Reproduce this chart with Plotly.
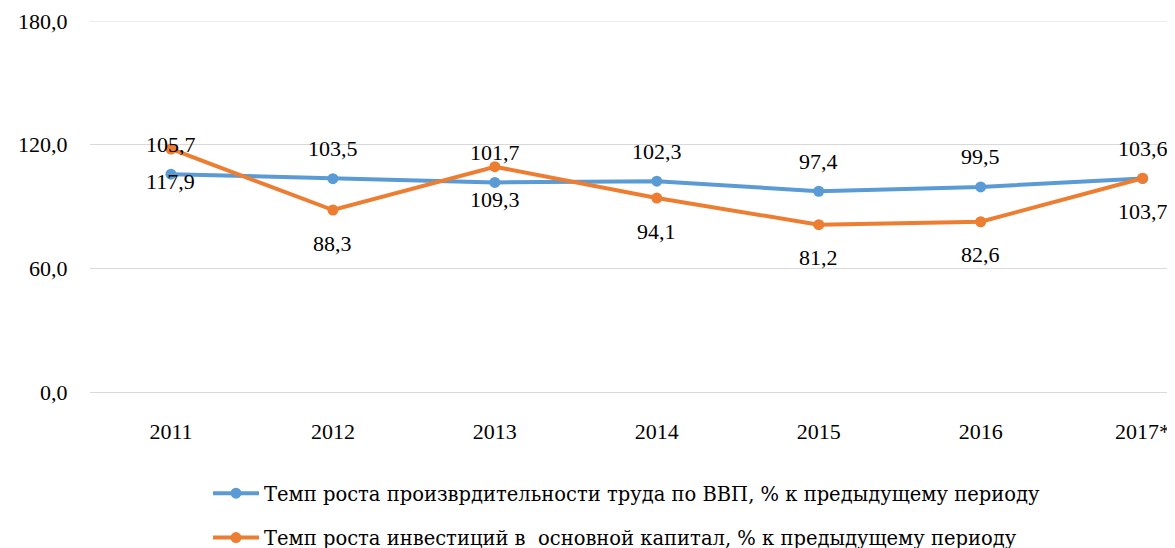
import plotly.graph_objects as go

years = ["2011", "2012", "2013", "2014", "2015", "2016", "2017*"]
productivity = [105.7, 103.5, 101.7, 102.3, 97.4, 99.5, 103.6]
investment = [117.9, 88.3, 109.3, 94.1, 81.2, 82.6, 103.7]
y_ticks = [0, 60, 120, 180]

name_prod = "Темп роста произврдительности труда по ВВП, % к предыдущему периоду"
name_inv = "Темп роста инвестиций в  основной капитал, % к предыдущему периоду"

BLUE = "#5B9BD5"
ORANGE = "#ED7D31"
FONT = "Liberation Serif"

def fmt(v):
    return f"{v:.1f}".replace(".", ",")

fig = go.Figure()
fig.add_trace(go.Scatter(
    x=years, y=productivity, name=name_prod, mode="lines+markers",
    line=dict(color=BLUE, width=4), marker=dict(color=BLUE, size=11),
    legendgroup="a"))
fig.add_trace(go.Scatter(
    x=years, y=investment, name=name_inv, mode="lines+markers",
    line=dict(color=ORANGE, width=4), marker=dict(color=ORANGE, size=11),
    legendgroup="b"))

annotations = []
for i, v in enumerate(productivity):
    annotations.append(dict(x=i, y=v, xref="x", yref="y", text=fmt(v),
                            showarrow=False, yshift=30,
                            font=dict(family=FONT, size=22, color="#000000")))
for i, v in enumerate(investment):
    annotations.append(dict(x=i, y=v, xref="x", yref="y", text=fmt(v),
                            showarrow=False, yshift=-33,
                            font=dict(family=FONT, size=22, color="#000000")))

fig.update_layout(
    width=1167, height=540,
    margin=dict(l=82, r=0, t=13, b=156, autoexpand=False),
    paper_bgcolor="white", plot_bgcolor="white",
    font=dict(family=FONT, size=22, color="#000000"),
    annotations=annotations,
    showlegend=True,
    legend=dict(
        xref="container", yref="container",
        x=200 / 1167, y=(540 - 466) / 540,
        xanchor="left", yanchor="top",
        orientation="v", traceorder="grouped", tracegroupgap=16,
        itemwidth=46,
        font=dict(family="DejaVu Serif", size=19.5, color="#000000"),
        bgcolor="rgba(0,0,0,0)",
    ),
    xaxis=dict(
        type="category", range=[-0.5, 6.2],
        showgrid=False, showline=False, zeroline=False,
        ticks="outside", ticklen=20, tickcolor="rgba(0,0,0,0)",
        tickangle=0, automargin=False,
        tickfont=dict(family=FONT, size=22),
    ),
    yaxis=dict(
        range=[0, 180], tickvals=y_ticks,
        ticktext=[fmt(v) for v in y_ticks],
        showgrid=True, gridcolor="#D9D9D9", gridwidth=1,
        showline=False, zeroline=True, zerolinecolor="#D9D9D9", zerolinewidth=1,
        automargin=False,
        ticks="outside", ticklen=17, tickcolor="rgba(0,0,0,0)",
        tickfont=dict(family=FONT, size=22),
    ),
    shapes=[dict(type="line", xref="paper", yref="y", x0=0, x1=1,
                 y0=y_ticks[-1], y1=y_ticks[-1],
                 line=dict(color="#D9D9D9", width=1), layer="below")],
)

fig.write_html("out.html")
